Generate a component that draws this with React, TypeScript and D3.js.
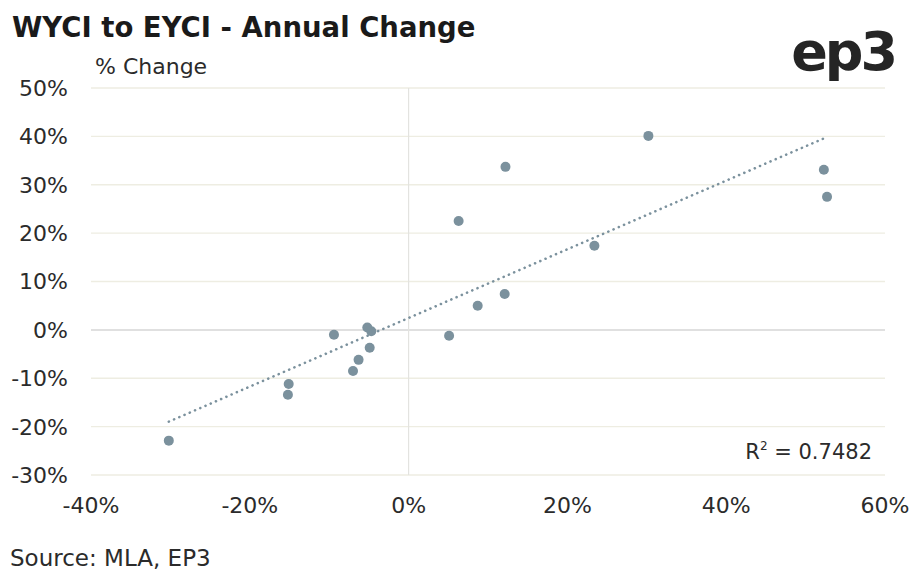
import * as d3 from 'd3'

// WYCI annual change (x) vs EYCI annual change (y), in %
const wyciChange = [-30.2, -15.1, -15.2, -9.4, -7.0, -6.3, -4.9, -4.7, -5.2, 5.1, 6.3, 8.7, 12.1, 12.2, 23.4, 30.2, 52.3, 52.7]
const eyciChange = [-22.9, -11.2, -13.4, -1.0, -8.5, -6.2, -3.7, -0.3, 0.5, -1.2, 22.5, 5.0, 7.4, 33.7, 17.4, 40.1, 33.1, 27.5]
const xTicks = [-40, -20, 0, 20, 40, 60]
const yTicks = [-30, -20, -10, 0, 10, 20, 30, 40, 50]

const WIDTH = 924
const HEIGHT = 579
const MARGIN = { LEFT: 91, RIGHT: 39, TOP: 88, BOTTOM: 104 }
const FONT = "'DejaVu Sans', sans-serif"
const TEXT = '#2b2b2b'
const DOT = '#7b919d'

export default function App() {
  const x = d3.scaleLinear().domain([-40, 60]).range([MARGIN.LEFT, WIDTH - MARGIN.RIGHT])
  const y = d3.scaleLinear().domain([-30, 50]).range([HEIGHT - MARGIN.BOTTOM, MARGIN.TOP])

  // least squares trend line
  const mx = d3.mean(wyciChange) as number
  const my = d3.mean(eyciChange) as number
  let sxy = 0
  let sxx = 0
  wyciChange.forEach((v, i) => {
    sxy += (v - mx) * (eyciChange[i] - my)
    sxx += (v - mx) * (v - mx)
  })
  const slope = sxy / sxx
  const intercept = my - slope * mx
  const [x0, x1] = d3.extent(wyciChange) as [number, number]
  const trend = d3.line<number>().x((d) => x(d)).y((d) => y(slope * d + intercept))([x0, x1]) as string

  return (
    <svg width={WIDTH} height={HEIGHT} style={{ position: 'absolute', left: 0, top: 0, background: '#fff' }} fontFamily={FONT}>
      <text x={12} y={37} fontSize={27.5} fontWeight={700} fill="#1a1a1a">WYCI to EYCI - Annual Change</text>
      <text x={95} y={74} fontSize={22} fill={TEXT}>% Change</text>
      <text x={895} y={70} fontSize={54} fontWeight={700} fill="#252525" textAnchor="end" letterSpacing={-3}>ep3</text>

      {yTicks.map((t) => (
        <g key={t}>
          <line x1={MARGIN.LEFT} x2={WIDTH - MARGIN.RIGHT} y1={y(t)} y2={y(t)}
            stroke={t === 0 ? '#d6d6d6' : '#eeede2'} strokeWidth={t === 0 ? 1.5 : 1.3} />
          <text x={68} y={y(t)} dy="0.36em" textAnchor="end" fontSize={22} fill={TEXT}>{t}%</text>
        </g>
      ))}
      <line x1={x(0)} x2={x(0)} y1={y(50)} y2={y(-30)} stroke="#e3e3e0" strokeWidth={1.2} />

      {xTicks.map((t) => (
        <text key={t} x={x(t)} y={513} textAnchor="middle" fontSize={22} fill={TEXT}>{t}%</text>
      ))}

      <path d={trend} fill="none" stroke={DOT} strokeWidth={2.6} strokeDasharray="0.1 5.6" strokeLinecap="round" />

      {wyciChange.map((v, i) => (
        <circle key={i} cx={x(v)} cy={y(eyciChange[i])} r={5} fill={DOT} />
      ))}

      <text x={872} y={459} textAnchor="end" fontSize={21} fill={TEXT}>
        R<tspan dy={-9} fontSize={12}>2</tspan><tspan dy={9}> = 0.7482</tspan>
      </text>

      <text x={10} y={566} fontSize={23} fill={TEXT}>Source: MLA, EP3</text>
    </svg>
  )
}
